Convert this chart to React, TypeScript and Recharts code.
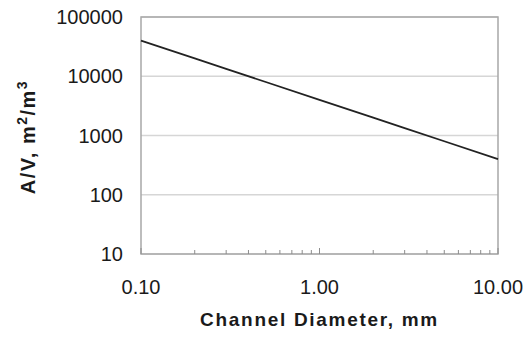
import { LineChart, Line, XAxis, YAxis, CartesianGrid, ReferenceArea, Label } from "recharts";

// A/V ratio vs channel diameter (log-log)
const diameters = [0.1, 0.2, 0.3, 0.5, 1, 2, 3, 5, 10];
const areaToVolume = [40000, 20000, 13300, 8000, 4000, 2000, 1330, 800, 400];

const xMajorTicks = [0.1, 1, 10];
const xMinorTicks = [0.2, 0.3, 0.4, 0.5, 0.6, 0.7, 0.8, 0.9, 2, 3, 4, 5, 6, 7, 8, 9];
const yTicks = [10, 100, 1000, 10000, 100000];

const data = diameters.map((d, i) => ({ d, av: areaToVolume[i] }));
const allXTicks = [...xMajorTicks, ...xMinorTicks].sort((a, b) => a - b);

const FONT = "'Liberation Sans', Arial, sans-serif";
const TEXT = "#1a1a1a";

function XTick(props: any) {
  const { x, y, payload } = props;
  const major = xMajorTicks.includes(payload.value);
  return (
    <g>
      <line x1={x} x2={x} y1={y} y2={y - (major ? 6 : 4)} stroke="#8c8c8c" strokeWidth={1} />
      {major && (
        <text x={x} y={y + 40} textAnchor="middle" fontFamily={FONT} fontSize={20} fill={TEXT}>
          {payload.value.toFixed(2)}
        </text>
      )}
    </g>
  );
}

function YTitle() {
  return (
    <text
      transform="translate(35,137) rotate(-90)"
      textAnchor="middle"
      fontFamily={FONT}
      fontSize={20}
      fontWeight="bold"
      letterSpacing={1.5}
      fill={TEXT}
    >
      A/V, m<tspan dy={-8} fontSize={14}>2</tspan>
      <tspan dy={8}>/m</tspan>
      <tspan dy={-8} fontSize={14}>3</tspan>
    </text>
  );
}

export default function App() {
  return (
    <div style={{ position: "absolute", left: 0, top: 0, background: "#fff" }}>
      <LineChart width={529} height={337} data={data} margin={{ top: 17, right: 31, bottom: 0, left: 0 }}>
        <CartesianGrid horizontal vertical={false} stroke="#d6d6d6" strokeWidth={1.5} />
        <XAxis
          dataKey="d"
          type="number"
          scale="log"
          domain={[0.1, 10]}
          ticks={allXTicks}
          interval={0}
          height={83}
          axisLine={false}
          tickLine={false}
          tickSize={0}
          tickMargin={0}
          tick={<XTick />}
        >
          <Label
            value="Channel Diameter, mm"
            position="insideBottom"
            offset={11}
            style={{ fontFamily: FONT, fontSize: 19, fontWeight: "bold", fill: TEXT, letterSpacing: 1.7 }}
          />
        </XAxis>
        <YAxis
          type="number"
          scale="log"
          domain={[10, 100000]}
          ticks={yTicks}
          interval={0}
          width={141}
          axisLine={false}
          tickLine={false}
          tickSize={0}
          tickMargin={18}
          tick={{ fontFamily: FONT, fontSize: 20, fill: TEXT }}
        >
          <Label content={<YTitle />} />
        </YAxis>
        <ReferenceArea
          x1={0.1}
          x2={10}
          y1={10}
          y2={100000}
          fill="none"
          stroke="#a8a8a8"
          strokeWidth={1.5}
          ifOverflow="visible"
        />
        <Line
          dataKey="av"
          stroke="#222"
          strokeWidth={1.8}
          dot={false}
          isAnimationActive={false}
        />
      </LineChart>
    </div>
  );
}
